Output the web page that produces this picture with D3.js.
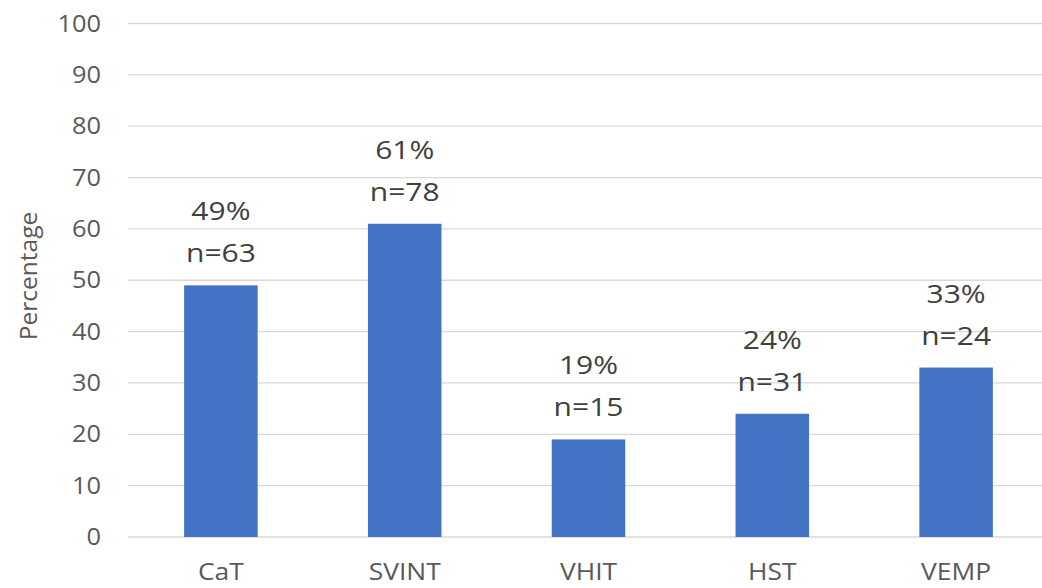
<!DOCTYPE html>
<html><head><meta charset="utf-8">
<script src="https://cdn.jsdelivr.net/npm/d3@7"></script>
<style>body{margin:0;background:#fff}svg{display:block}</style>
</head><body>
<svg id="c" width="1042" height="588"></svg>
<script>
const categories = ["CaT","SVINT","VHIT","HST","VEMP"];
const percentages = [49,61,19,24,33];
const counts = [63,78,15,31,24];
const yTicks = [0,10,20,30,40,50,60,70,80,90,100];

const svg = d3.select("#c");
const font = "'Open Sans', 'Noto Sans', sans-serif";
const x = d3.scaleBand().domain(categories).range([129,1048]).paddingInner(0.6).paddingOuter(0.3);
const y = d3.scaleLinear().domain([0,100]).range([537,23.5]);

// gridlines
svg.append("g").selectAll("line").data(yTicks).join("line")
  .attr("x1",128).attr("x2",1042)
  .attr("y1",d=>y(d)).attr("y2",d=>y(d))
  .attr("stroke","#d9d9d9").attr("stroke-width",1.3);

// y axis labels
const yAxis = d3.axisLeft(y).tickValues(yTicks).tickSize(0).tickPadding(0);
const gy = svg.append("g").attr("transform","translate(101,0)").call(yAxis);
gy.select(".domain").remove();
gy.selectAll("text").attr("font-family",font).attr("font-size",23.5).attr("fill","#595959")
  .attr("x",null).attr("transform","scale(1.08,1)");

// bars
svg.append("g").selectAll("rect").data(categories).join("rect")
  .attr("x",d=>x(d)).attr("width",x.bandwidth())
  .attr("y",(d,i)=>y(percentages[i])).attr("height",(d,i)=>y(0)-y(percentages[i]))
  .attr("fill","#4472C4");

// data labels
const lab = svg.append("g").attr("font-family",font).attr("font-size",25).attr("fill","#404040").attr("text-anchor","middle");
categories.forEach((c,i)=>{
  const cx = x(c)+x.bandwidth()/2;
  lab.append("text").attr("transform",`translate(${cx},${y(percentages[i])-65}) scale(1.2,1)`).text(percentages[i]+"%");
  lab.append("text").attr("transform",`translate(${cx},${y(percentages[i])-23}) scale(1.2,1)`).text("n="+counts[i]);
});

// x axis labels
const xAxis = d3.axisBottom(x).tickSize(0).tickPadding(0);
const gx = svg.append("g").attr("transform","translate(0,580)").call(xAxis);
gx.select(".domain").remove();
gx.selectAll("text").attr("font-family",font).attr("font-size",24).attr("fill","#595959")
  .attr("dy",null).attr("y",0).attr("transform","scale(1.1,1)");

// y title
svg.append("text").attr("transform","translate(37,276) rotate(-90)")
  .attr("text-anchor","middle").attr("font-family",font).attr("font-size",24.5).attr("fill","#595959")
  .text("Percentage");
</script>
</body></html>
